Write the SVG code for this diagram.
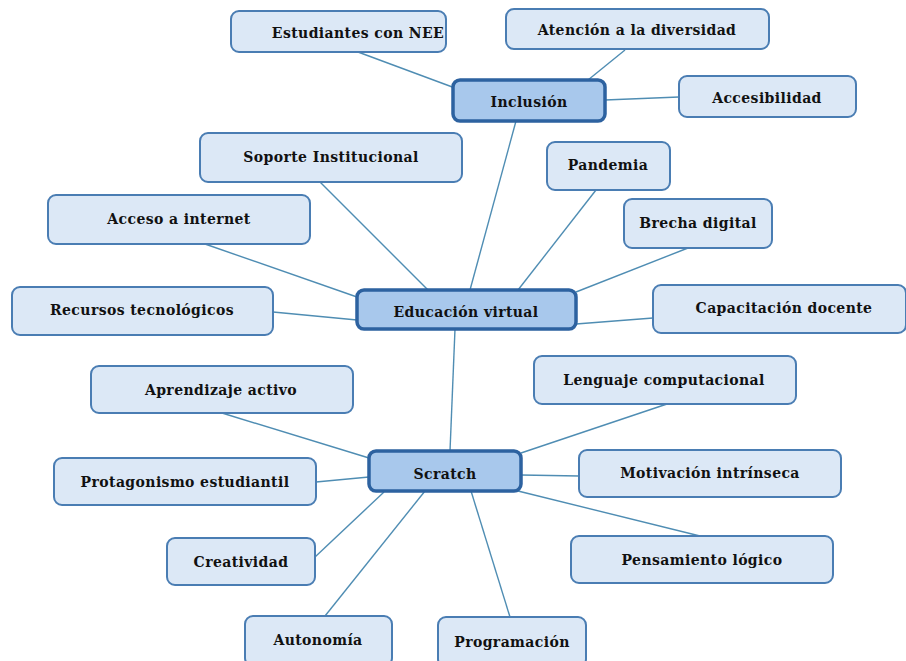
<svg xmlns="http://www.w3.org/2000/svg" width="906" height="661" viewBox="0 0 906 661">
<style>
.n rect{fill:#dce8f6;stroke:#4a7db3;stroke-width:2}
.c rect{fill:#a8c8ec;stroke:#2d62a0;stroke-width:3.5}
text{font-family:'DejaVu Serif','Liberation Serif',serif;font-weight:bold;font-size:14px;fill:#111;text-anchor:middle;letter-spacing:0.4px}
#edges line{stroke:#4f8db3;stroke-width:1.4}
</style>
<rect width="906" height="661" fill="#fff"/>
<g id="edges">
<line x1="358" y1="52" x2="455" y2="88"/>
<line x1="588" y1="80" x2="625" y2="50"/>
<line x1="605" y1="100" x2="679" y2="97"/>
<line x1="516" y1="121" x2="470" y2="290"/>
<line x1="320" y1="182" x2="428" y2="290"/>
<line x1="205" y1="244" x2="357" y2="297"/>
<line x1="273" y1="312" x2="357" y2="320"/>
<line x1="596" y1="190" x2="518" y2="290"/>
<line x1="688" y1="248" x2="576" y2="292"/>
<line x1="653" y1="318" x2="576" y2="324"/>
<line x1="455" y1="329" x2="450" y2="451"/>
<line x1="222" y1="413" x2="369" y2="458"/>
<line x1="316" y1="482" x2="369" y2="477"/>
<line x1="315" y1="557" x2="384" y2="492"/>
<line x1="325" y1="616" x2="425" y2="491"/>
<line x1="510" y1="617" x2="471" y2="491"/>
<line x1="700" y1="536" x2="518" y2="491"/>
<line x1="579" y1="476" x2="521" y2="475"/>
<line x1="667" y1="404" x2="521" y2="453"/>
</g>
<g id="inclusion" class="c"><rect x="453" y="80" width="152" height="41" rx="7"/><text x="529" y="107">Inclusión</text></g>
<g id="nee" class="n"><rect x="231" y="11" width="215" height="41" rx="8"/><text x="358" y="38">Estudiantes con NEE</text></g>
<g id="atencion" class="n"><rect x="506" y="9" width="263" height="40" rx="8"/><text x="637" y="35">Atención a la diversidad</text></g>
<g id="accesibilidad" class="n"><rect x="679" y="76" width="177" height="41" rx="8"/><text x="767" y="103">Accesibilidad</text></g>
<g id="soporte" class="n"><rect x="200" y="133" width="262" height="49" rx="8"/><text x="331" y="162">Soporte Institucional</text></g>
<g id="pandemia" class="n"><rect x="547" y="142" width="123" height="48" rx="8"/><text x="608" y="170">Pandemia</text></g>
<g id="acceso" class="n"><rect x="48" y="195" width="262" height="49" rx="8"/><text x="179" y="224">Acceso a internet</text></g>
<g id="brecha" class="n"><rect x="624" y="199" width="148" height="49" rx="8"/><text x="698" y="228">Brecha digital</text></g>
<g id="educacion" class="c"><rect x="357" y="290" width="219" height="39" rx="7"/><text x="466" y="317">Educación virtual</text></g>
<g id="recursos" class="n"><rect x="12" y="287" width="261" height="48" rx="8"/><text x="142" y="315">Recursos tecnológicos</text></g>
<g id="capacitacion" class="n"><rect x="653" y="285" width="253" height="48" rx="8"/><text x="784" y="313">Capacitación docente</text></g>
<g id="lenguaje" class="n"><rect x="534" y="356" width="262" height="48" rx="8"/><text x="664" y="385">Lenguaje computacional</text></g>
<g id="aprendizaje" class="n"><rect x="91" y="366" width="262" height="47" rx="8"/><text x="221" y="395">Aprendizaje activo</text></g>
<g id="scratch" class="c"><rect x="369" y="451" width="152" height="40" rx="7"/><text x="445" y="479">Scratch</text></g>
<g id="motivacion" class="n"><rect x="579" y="450" width="262" height="47" rx="8"/><text x="710" y="478">Motivación intrínseca</text></g>
<g id="protagonismo" class="n"><rect x="54" y="458" width="262" height="47" rx="8"/><text x="185" y="487">Protagonismo estudiantil</text></g>
<g id="pensamiento" class="n"><rect x="571" y="536" width="262" height="47" rx="8"/><text x="702" y="565">Pensamiento lógico</text></g>
<g id="creatividad" class="n"><rect x="167" y="538" width="148" height="47" rx="8"/><text x="241" y="567">Creatividad</text></g>
<g id="autonomia" class="n"><rect x="245" y="616" width="147" height="50" rx="8"/><text x="318" y="645">Autonomía</text></g>
<g id="programacion" class="n"><rect x="438" y="617" width="148" height="50" rx="8"/><text x="512" y="647">Programación</text></g>
</svg>
